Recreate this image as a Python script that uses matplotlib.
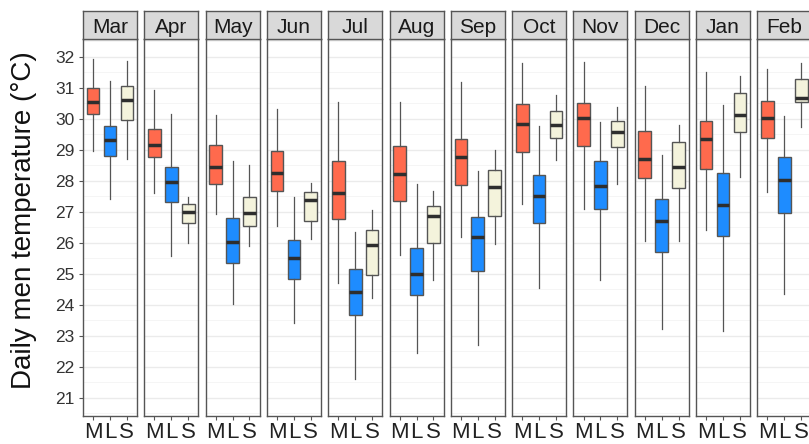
"""
Monthly boxplots of daily men temperature by group (M, L, S),
one facet per month.
"""

import matplotlib.pyplot as plt
import numpy as np

months = ["Mar", "Apr", "May", "Jun", "Jul", "Aug", "Sep", "Oct", "Nov", "Dec", "Jan", "Feb"]
groups = ["M", "L", "S"]
colors = {"M": "#FF6A4D", "L": "#1E8CFF", "S": "#F4F3DC"}

# per month: [whisker low, q1, median, q3, whisker high]
stats_m = [
    [28.96, 30.16, 30.56, 30.99, 31.94],
    [27.62, 28.78, 29.17, 29.66, 30.93],
    [26.92, 27.90, 28.44, 29.17, 30.13],
    [26.55, 27.66, 28.26, 28.95, 30.31],
    [24.71, 26.78, 27.60, 28.63, 30.55],
    [25.61, 27.35, 28.23, 29.13, 30.55],
    [26.18, 27.87, 28.78, 29.35, 31.19],
    [27.24, 28.92, 29.84, 30.49, 31.80],
    [27.09, 29.14, 30.02, 30.53, 31.85],
    [26.07, 28.08, 28.72, 29.62, 31.06],
    [26.40, 28.37, 29.35, 29.92, 31.52],
    [27.63, 29.38, 30.02, 30.59, 31.60],
]
stats_l = [
    [27.43, 28.81, 29.32, 29.77, 31.22],
    [25.57, 27.31, 27.96, 28.44, 30.15],
    [24.01, 25.34, 26.04, 26.79, 28.64],
    [23.42, 24.82, 25.50, 26.10, 27.47],
    [21.60, 23.66, 24.40, 25.16, 26.36],
    [22.43, 24.30, 24.99, 25.82, 27.90],
    [22.70, 25.10, 26.18, 26.84, 28.32],
    [24.53, 26.63, 27.51, 28.18, 29.77],
    [24.80, 27.08, 27.85, 28.65, 29.89],
    [23.23, 25.72, 26.70, 27.41, 28.84],
    [23.16, 26.21, 27.21, 28.26, 30.46],
    [24.35, 26.97, 28.03, 28.78, 30.08],
]
stats_s = [
    [28.70, 29.95, 30.62, 31.06, 31.87],
    [26.00, 26.63, 27.01, 27.24, 27.49],
    [25.91, 26.53, 26.97, 27.48, 28.51],
    [26.12, 26.69, 27.38, 27.63, 27.93],
    [24.23, 24.97, 25.93, 26.43, 27.06],
    [24.80, 25.98, 26.87, 27.18, 27.68],
    [25.97, 26.87, 27.81, 28.35, 29.01],
    [28.68, 29.37, 29.80, 30.26, 30.76],
    [27.91, 29.10, 29.59, 29.92, 30.40],
    [26.07, 27.78, 28.46, 29.26, 29.79],
    [28.11, 29.57, 30.13, 30.83, 31.39],
    [29.75, 30.56, 30.69, 31.28, 31.82],
]
all_stats = {"M": stats_m, "L": stats_l, "S": stats_s}

plt.rcParams["font.family"] = ["Liberation Sans", "DejaVu Sans"]

W, H = 809, 444
fig = plt.figure(figsize=(W / 100, H / 100), dpi=100)

left0, pitch, pw = 83, 61.3, 54
top, strip_h, bottom = 39, 28, 416

for i, month in enumerate(months):
    x0 = left0 + i * pitch
    ax = fig.add_axes([x0 / W, 1 - bottom / H, pw / W, (bottom - top) / H])
    sax = fig.add_axes([x0 / W, 1 - top / H, pw / W, strip_h / H])

    boxes = []
    for g in groups:
        lo, q1, med, q3, hi = all_stats[g][i]
        boxes.append({"whislo": lo, "q1": q1, "med": med, "q3": q3, "whishi": hi, "fliers": []})
    bp = ax.bxp(boxes, positions=[1, 2, 3], widths=0.75, showfliers=False,
                showcaps=False, patch_artist=True,
                boxprops=dict(edgecolor="#555555", linewidth=1.0),
                whiskerprops=dict(color="#555555", linewidth=0.9),
                medianprops=dict(color="#2E2E2E", linewidth=2.5, solid_capstyle="butt"))
    for patch, g in zip(bp["boxes"], groups):
        patch.set_facecolor(colors[g])

    ax.set_xlim(0.4, 3.6)
    ax.set_ylim(20.41, 32.58)
    ax.set_yticks(np.arange(21, 33))
    ax.set_yticks(np.arange(20.5, 33, 1.0), minor=True)
    ax.grid(axis="y", which="major", color="#EBEBEB", linewidth=1.0)
    ax.grid(axis="y", which="minor", color="#F4F4F4", linewidth=0.6)
    ax.set_axisbelow(True)
    ax.set_xticks([1, 2, 3])
    ax.set_xticklabels(groups, fontsize=16, color="#222222")
    ax.tick_params(axis="x", length=3, color="#555555", pad=1.5)
    ax.tick_params(axis="y", which="minor", length=0)
    for sp in ax.spines.values():
        sp.set_color("#555555")
        sp.set_linewidth(1.0)
    if i == 0:
        ax.tick_params(axis="y", length=3, color="#555555", labelsize=12.5,
                       labelcolor="#333333", pad=3)
        ax.set_ylabel("Daily men temperature (°C)", fontsize=20, color="#111111")
        ax.yaxis.set_label_coords(-0.86, 0.52)
    else:
        ax.tick_params(axis="y", length=0, labelleft=False)

    sax.set_facecolor("#D9D9D9")
    sax.set_xticks([])
    sax.set_yticks([])
    for sp in sax.spines.values():
        sp.set_color("#555555")
        sp.set_linewidth(1.0)
    sax.text(0.5, 0.42, month, ha="center", va="center", fontsize=15, color="#1A1A1A",
             transform=sax.transAxes)

fig.savefig("out.png", dpi=100)
